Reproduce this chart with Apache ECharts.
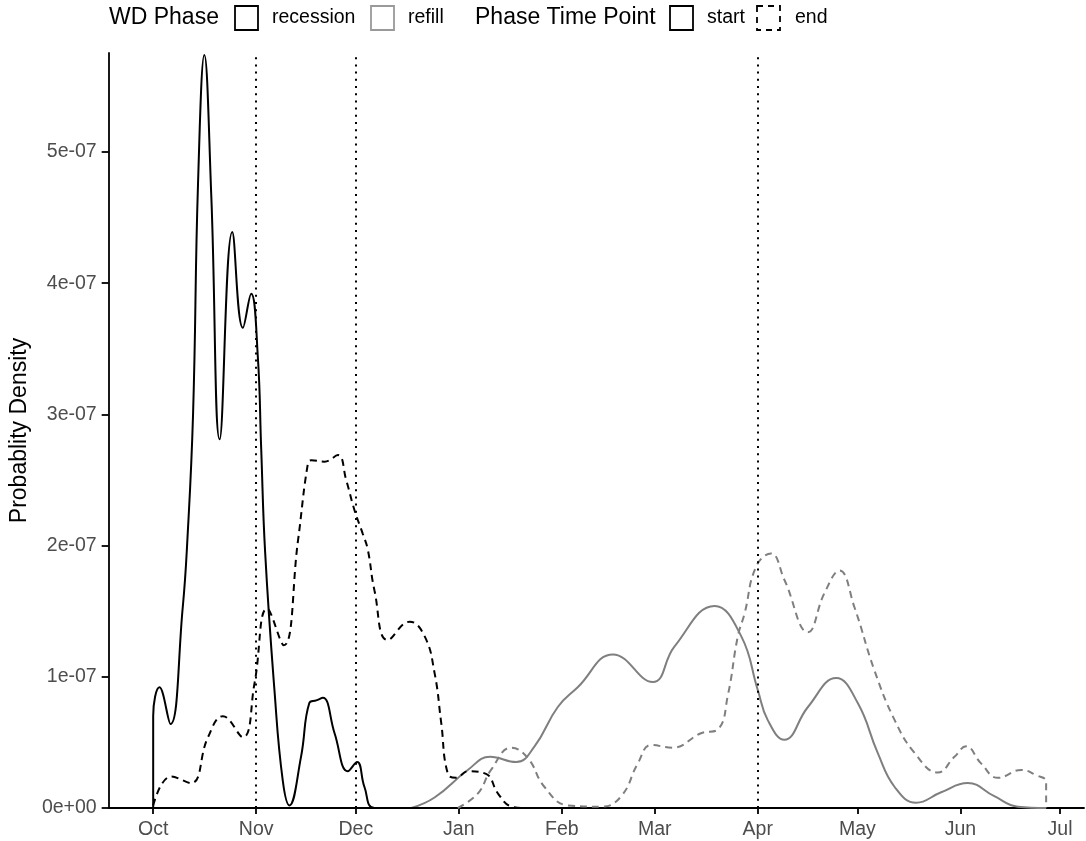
<!DOCTYPE html>
<html>
<head>
<meta charset="utf-8">
<title>Probablity Density</title>
<script src="https://cdn.jsdelivr.net/npm/echarts@6/dist/echarts.min.js"></script>
<style>
  html, body { margin: 0; padding: 0; background: #fff; }
  #chart { width: 1086px; height: 841px; }
</style>
</head>
<body>
<div id="chart"></div>
<script>
// Days counted from 1 October; x positions of the month ticks and their labels
const MONTH_DAYS = [0, 31, 61, 92, 123, 151, 182, 212, 243, 273];
const MONTH_LABELS = ['Oct', 'Nov', 'Dec', 'Jan', 'Feb', 'Mar', 'Apr', 'May', 'Jun', 'Jul'];

// y ticks and their labels
const Y_TICKS = [0, 1e-7, 2e-7, 3e-7, 4e-7, 5e-7];
const Y_TICK_LABELS = ['0e+00', '1e-07', '2e-07', '3e-07', '4e-07', '5e-07'];

// dotted reference lines (1 Nov, 1 Dec, 1 Apr)
const VLINE_DAYS = [31, 61, 182];

// density curves: [day, density]
const recessionStart = [
  [0, 0], [0, 0.70e-7], [1.9, 0.92e-7], [5.2, 0.64e-7], [8.9, 1.53e-7], [10.2, 2.0e-7],
  [12.0, 3.0e-7], [13.5, 4.76e-7], [15.4, 5.74e-7], [17.5, 4.66e-7], [20.0, 2.81e-7],
  [23.8, 4.39e-7], [27.0, 3.66e-7], [29.5, 3.92e-7], [31.5, 3.44e-7], [32.5, 2.75e-7],
  [33.7, 1.95e-7], [36.5, 0.90e-7], [39.0, 0.21e-7], [41.0, 0.02e-7], [44.5, 0.39e-7],
  [47.0, 0.80e-7], [49.1, 0.82e-7], [51.1, 0.84e-7], [54.6, 0.57e-7], [58.6, 0.28e-7],
  [61.4, 0.35e-7], [63.6, 0.16e-7], [66.6, 0], [80, 0]
];
const recessionEnd = [
  [0, 0.02e-7], [5.4, 0.24e-7], [11.4, 0.19e-7], [16.5, 0.54e-7], [21.0, 0.70e-7],
  [27.0, 0.54e-7], [30.5, 0.95e-7], [34.3, 1.52e-7], [39.3, 1.24e-7], [43.6, 2.04e-7],
  [46.6, 2.63e-7], [47.6, 2.65e-7], [51.6, 2.64e-7], [55.6, 2.69e-7], [58.1, 2.50e-7],
  [60.6, 2.27e-7], [63.1, 2.09e-7], [64.6, 1.97e-7], [66.6, 1.66e-7], [70.6, 1.28e-7],
  [77.2, 1.42e-7], [81.7, 1.31e-7], [84.7, 1.03e-7], [86.7, 0.65e-7], [88.7, 0.26e-7],
  [91.2, 0.23e-7], [94.7, 0.28e-7], [100.2, 0.26e-7], [103.8, 0.11e-7], [107.8, 0.01e-7],
  [110.8, 0]
];
const refillStart = [
  [77.7, 0], [84.7, 0.08e-7], [94.7, 0.29e-7], [101.4, 0.39e-7], [109.3, 0.35e-7],
  [114.8, 0.47e-7], [121.8, 0.77e-7], [127.8, 0.92e-7], [138.4, 1.17e-7], [150.4, 0.96e-7],
  [156.9, 1.23e-7], [169.0, 1.54e-7], [177.0, 1.31e-7], [182.0, 0.90e-7], [185.0, 0.67e-7],
  [190.0, 0.52e-7], [197.1, 0.77e-7], [205.6, 0.99e-7], [212.1, 0.80e-7], [218.1, 0.42e-7],
  [223.2, 0.16e-7], [229.7, 0.04e-7], [237.2, 0.12e-7], [245.2, 0.19e-7], [253.2, 0.09e-7],
  [260.3, 0.01e-7], [268.8, 0]
];
const refillEnd = [
  [91.7, 0], [97.7, 0.11e-7], [101.7, 0.29e-7], [107.8, 0.46e-7], [112.8, 0.38e-7],
  [117.8, 0.16e-7], [124.8, 0.02e-7], [134.9, 0.01e-7], [140.9, 0.09e-7], [145.9, 0.34e-7],
  [149.9, 0.48e-7], [156.4, 0.46e-7], [164.9, 0.57e-7], [170.0, 0.60e-7], [173.0, 0.86e-7],
  [176.0, 1.31e-7], [178.0, 1.48e-7], [181.5, 1.84e-7], [186.0, 1.94e-7], [190.0, 1.74e-7],
  [197.1, 1.34e-7], [202.1, 1.64e-7], [206.6, 1.81e-7], [211.1, 1.53e-7], [217.1, 1.05e-7],
  [223.2, 0.67e-7], [229.2, 0.42e-7], [236.2, 0.27e-7], [241.2, 0.39e-7], [244.7, 0.47e-7],
  [249.2, 0.34e-7], [254.3, 0.23e-7], [261.3, 0.29e-7], [265.8, 0.25e-7], [268.8, 0.20e-7],
  [268.8, 0]
];

const FONT = '"Liberation Sans", Arial, Helvetica, sans-serif';
const BLACK = '#000000';
const GREY = '#7f7f7f';
const DASH = [7, 5];

function densityLine(name, data, color, dashed, z) {
  return {
    name: name,
    type: 'line',
    data: data,
    showSymbol: false,
    symbol: 'none',
    smooth: 0.45,
    z: z,
    lineStyle: { color: color, width: 2, type: dashed ? DASH : 'solid' },
    silent: true
  };
}

const series = [
  densityLine('refill end', refillEnd, GREY, true, 2),
  densityLine('refill start', refillStart, GREY, false, 2),
  densityLine('recession end', recessionEnd, BLACK, true, 3),
  densityLine('recession start', recessionStart, BLACK, false, 3)
];

// dotted month markers spanning the whole panel
series[0].markLine = {
  silent: true,
  symbol: ['none', 'none'],
  label: { show: false },
  lineStyle: { color: BLACK, width: 2, type: [2, 5.2] },
  data: VLINE_DAYS.map(d => ({ xAxis: d }))
};

// legend drawn as boxes and labels
const LEGEND_Y = 18;
const legendItems = [
  { type: 'text', x: 109, text: 'WD Phase', size: 23 },
  { type: 'box', x: 235, color: BLACK, dashed: false },
  { type: 'text', x: 272, text: 'recession', size: 19.5 },
  { type: 'box', x: 371, color: '#999999', dashed: false },
  { type: 'text', x: 408, text: 'refill', size: 19.5 },
  { type: 'text', x: 475, text: 'Phase Time Point', size: 23 },
  { type: 'box', x: 670, color: BLACK, dashed: false },
  { type: 'text', x: 707, text: 'start', size: 19.5 },
  { type: 'box', x: 757, color: BLACK, dashed: true },
  { type: 'text', x: 795, text: 'end', size: 19.5 }
];
const graphic = legendItems.map(it => {
  if (it.type === 'text') {
    return {
      type: 'text', x: it.x, y: LEGEND_Y, silent: true,
      style: { text: it.text, font: it.size + 'px ' + FONT, fill: '#000',
               verticalAlign: 'middle', align: 'left' }
    };
  }
  return {
    type: 'rect', silent: true,
    shape: { x: it.x, y: LEGEND_Y - 12, width: 23, height: 24 },
    style: { fill: 'none', stroke: it.color, lineWidth: 1.8, lineDash: it.dashed ? [6, 5] : null }
  };
});

const chart = echarts.init(document.getElementById('chart'), null, { renderer: 'canvas' });
chart.setOption({
  animation: false,
  backgroundColor: '#ffffff',
  grid: { left: 107, right: 2, top: 53, bottom: 33, containLabel: false },
  xAxis: {
    type: 'value',
    min: -13.4,
    max: 280.2,
    splitLine: { show: false },
    axisLine: { onZero: false, lineStyle: { color: BLACK, width: 1.8 } },
    axisTick: { customValues: MONTH_DAYS, length: 6, lineStyle: { color: BLACK, width: 1.8 } },
    axisLabel: {
      customValues: MONTH_DAYS,
      formatter: v => MONTH_LABELS[MONTH_DAYS.indexOf(v)],
      fontSize: 19.5, fontFamily: FONT, color: '#4d4d4d', margin: 12
    }
  },
  yAxis: {
    type: 'value',
    min: 0,
    max: 5.755e-7,
    name: 'Probablity Density',
    nameLocation: 'middle',
    nameRotate: 90,
    nameGap: 70,
    nameTextStyle: { fontSize: 23, fontFamily: FONT, color: '#000' },
    splitLine: { show: false },
    axisLine: { onZero: false, lineStyle: { color: BLACK, width: 1.8 } },
    axisTick: { customValues: Y_TICKS, length: 7, lineStyle: { color: BLACK, width: 1.8 } },
    axisLabel: {
      customValues: Y_TICKS,
      formatter: v => Y_TICK_LABELS[Y_TICKS.indexOf(v)],
      fontSize: 19.5, fontFamily: FONT, color: '#4d4d4d', margin: 12
    }
  },
  graphic: graphic,
  series: series
});
</script>
</body>
</html>
